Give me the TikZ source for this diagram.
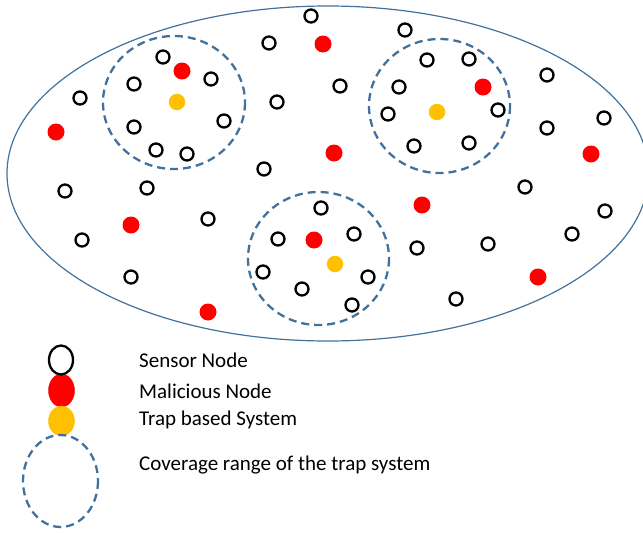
\documentclass[tikz,border=0pt]{standalone}
\usepackage{fontspec}
\setmainfont{Carlito}
\definecolor{rangeblue}{HTML}{41719C}
\definecolor{malred}{HTML}{FF0000}
\definecolor{trapgold}{HTML}{FFC000}
\begin{document}
\begin{tikzpicture}[x=1pt,y=-1pt,
  sensor/.style={circle,draw=black,line width=2.3pt,minimum size=13pt,inner sep=0pt},
  malicious/.style={circle,fill=malred,minimum size=17pt,inner sep=0pt},
  trap/.style={circle,fill=trapgold,minimum size=16.5pt,inner sep=0pt},
  coverage/.style={draw=rangeblue,line width=2.3pt,dash pattern=on 8pt off 5pt},
  legendtext/.style={anchor=west,font=\fontsize{21}{24}\selectfont,inner sep=0pt}]
\useasboundingbox (0,0) rectangle (643,533);

% network field (runs slightly past the right border)
\begin{scope}
\clip (0,0) rectangle (643,533);
\draw[rangeblue,line width=1.2pt] (327.8,173.5) ellipse [x radius=320.8, y radius=167.5];
\end{scope}

% coverage ranges of the trap systems
\draw[coverage] (174,102.5) ellipse [x radius=71, y radius=66.5];
\draw[coverage] (439.5,106) ellipse [x radius=70.5, y radius=67];
\draw[coverage] (318.5,258.5) ellipse [x radius=70.5, y radius=66.5];

% sensor nodes
\foreach \p [count=\i] in {(311,16),(269,43),(163,57),(134,84),(211,79),(80,98),(277,102),
  (134,127),(224,121),(156,150),(187,154),(264,169),(65,191),(147,188),
  (405,30),(427,60),(469,59),(340,86),(399,87),(388,114),(498,110),(547,75),
  (604,118),(547,128),(414,146),(469,143),(525,187),
  (208,219),(82,240),(131,277),(321,208),(278,239),(263,272),(302,289),
  (605,211),(572,234),(488,244),(417,248),(456,299),(354,234),(368,277),(352,305)}
  \node[sensor] (s\i) at \p {};

% malicious nodes
\foreach \p [count=\i] in {(182,71),(56,132),(323,44),(483,87),(334,153),(591,154),
  (131,225),(208,312),(314,240),(422,205),(538,277)}
  \node[malicious] (m\i) at \p {};

% trap based systems
\node[trap] (t1) at (177,102) {};
\node[trap] (t2) at (437,112) {};
\node[trap] (t3) at (335,264) {};

% legend
\draw[malred,fill=malred] (61.5,390.5) ellipse [x radius=13, y radius=16.5];
\draw[trapgold,fill=trapgold] (61.5,421) ellipse [x radius=13, y radius=15];
\draw[black,line width=2.3pt] (61,360) ellipse [x radius=12, y radius=14.5];
\draw[coverage] (60.5,481) ellipse [x radius=37.5, y radius=46];

\node[legendtext] (l1) at (139,360) {Sensor Node};
\node[legendtext] (l2) at (139,391) {Malicious Node};
\node[legendtext] (l3) at (139,420) {Trap based System};
\node[legendtext] (l4) at (139,465) {Coverage range of the trap system};
\end{tikzpicture}
\end{document}
